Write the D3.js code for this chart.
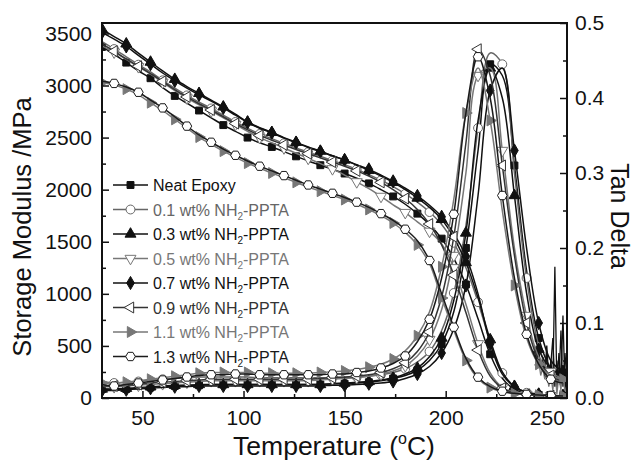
<!DOCTYPE html>
<html>
<head>
<meta charset="utf-8">
<title>DMA curves</title>
<style>
  body { margin: 0; background: #fff; }
  text { font-family: "Liberation Sans", Arial, sans-serif; }
</style>
</head>
<body>
<div id="chart"></div>
<script src="https://d3js.org/d3.v7.min.js"></script>
<script>
// temperature grid (°C), shared by every series
const temps = [30, 36, 42, 48, 54, 60, 66, 72, 78, 84, 90, 96, 102, 108, 114, 120, 126, 132, 138, 144,
  150, 156, 162, 168, 174, 180, 186, 192, 198, 204, 210, 216, 222, 228, 234, 240, 246, 252, 258];

const labels = ["Neat Epoxy", "0.1 wt%", "0.3 wt%", "0.5 wt%", "0.7 wt%", "0.9 wt%", "1.1 wt%", "1.3 wt%"];

// storage modulus (MPa)
const modNeat = [3370, 3300, 3220, 3140, 3070, 2980, 2900, 2830, 2760, 2690, 2620, 2560, 2500, 2450, 2410, 2365, 2320, 2275, 2235, 2195,
  2155, 2110, 2060, 2000, 1935, 1860, 1770, 1665, 1530, 1340, 1090, 760, 420, 190, 85, 45, 30, 24, 20];
const mod01 = [3420, 3350, 3275, 3200, 3130, 3050, 2975, 2905, 2840, 2780, 2715, 2650, 2590, 2535, 2490, 2445, 2400, 2360, 2320, 2280,
  2240, 2195, 2145, 2090, 2030, 1960, 1880, 1785, 1665, 1490, 1250, 920, 540, 240, 105, 50, 32, 24, 20];
const mod03 = [3540, 3470, 3400, 3310, 3225, 3140, 3060, 2990, 2925, 2860, 2795, 2725, 2650, 2595, 2550, 2500, 2455, 2410, 2370, 2325,
  2285, 2235, 2185, 2130, 2070, 2000, 1920, 1830, 1715, 1540, 1300, 960, 560, 250, 110, 55, 35, 25, 20];
const mod05 = [3380, 3320, 3250, 3180, 3110, 3030, 2950, 2880, 2815, 2755, 2690, 2625, 2560, 2500, 2450, 2400, 2350, 2300, 2250, 2200,
  2140, 2075, 2010, 1935, 1855, 1780, 1690, 1600, 1480, 1250, 900, 520, 240, 100, 52, 35, 28, 22, 20];
const mod07 = [3510, 3445, 3375, 3290, 3205, 3120, 3045, 2975, 2910, 2850, 2785, 2715, 2645, 2590, 2545, 2495, 2450, 2405, 2365, 2325,
  2285, 2240, 2195, 2140, 2080, 2015, 1940, 1850, 1740, 1580, 1360, 1000, 520, 230, 110, 55, 35, 26, 21];
const mod09 = [3400, 3330, 3255, 3185, 3115, 3040, 2960, 2890, 2825, 2765, 2700, 2635, 2575, 2520, 2475, 2430, 2385, 2345, 2305, 2265,
  2225, 2180, 2130, 2070, 2000, 1915, 1810, 1670, 1470, 1180, 820, 460, 210, 95, 50, 35, 28, 22, 20];
const mod11 = [3030, 3005, 2965, 2910, 2835, 2760, 2675, 2590, 2505, 2435, 2370, 2310, 2255, 2205, 2160, 2115, 2070, 2025, 1985, 1945,
  1905, 1860, 1810, 1750, 1680, 1590, 1470, 1290, 960, 650, 360, 185, 100, 60, 42, 33, 27, 23, 20];
const mod13 = [3040, 3020, 2985, 2935, 2860, 2785, 2700, 2610, 2525, 2455, 2390, 2330, 2275, 2225, 2180, 2135, 2090, 2045, 2005, 1965,
  1925, 1880, 1830, 1770, 1705, 1620, 1510, 1320, 1000, 680, 380, 200, 110, 65, 45, 35, 28, 24, 20];

// tan delta
const tanNeat = [0.012, 0.011, 0.012, 0.013, 0.014, 0.015, 0.016, 0.017, 0.017, 0.018, 0.018, 0.018, 0.018, 0.018, 0.018, 0.018, 0.018, 0.018, 0.018, 0.019,
  0.019, 0.020, 0.021, 0.023, 0.026, 0.030, 0.037, 0.050, 0.072, 0.115, 0.200, 0.330, 0.445, 0.430, 0.310, 0.170, 0.080, 0.040, 0.030];
const tan01 = [0.022, 0.020, 0.021, 0.022, 0.024, 0.025, 0.026, 0.027, 0.028, 0.028, 0.028, 0.028, 0.028, 0.027, 0.027, 0.027, 0.027, 0.027, 0.027, 0.027,
  0.027, 0.028, 0.029, 0.031, 0.034, 0.039, 0.048, 0.062, 0.090, 0.140, 0.230, 0.360, 0.460, 0.445, 0.300, 0.160, 0.070, 0.030, 0.020];
const tan03 = [0.012, 0.012, 0.013, 0.014, 0.015, 0.016, 0.017, 0.017, 0.018, 0.018, 0.018, 0.018, 0.018, 0.018, 0.018, 0.018, 0.018, 0.018, 0.018, 0.019,
  0.020, 0.021, 0.022, 0.024, 0.027, 0.032, 0.040, 0.055, 0.080, 0.130, 0.220, 0.370, 0.440, 0.400, 0.270, 0.140, 0.065, 0.040, 0.035];
const tan05 = [0.015, 0.015, 0.016, 0.017, 0.018, 0.019, 0.020, 0.021, 0.022, 0.023, 0.023, 0.023, 0.023, 0.023, 0.023, 0.023, 0.023, 0.023, 0.024, 0.025,
  0.026, 0.027, 0.029, 0.032, 0.036, 0.043, 0.056, 0.078, 0.118, 0.190, 0.300, 0.430, 0.440, 0.330, 0.200, 0.110, 0.055, 0.035, 0.025];
const tan07 = [0.010, 0.010, 0.011, 0.012, 0.013, 0.014, 0.015, 0.015, 0.016, 0.016, 0.016, 0.016, 0.016, 0.016, 0.016, 0.016, 0.016, 0.016, 0.016, 0.017,
  0.017, 0.018, 0.019, 0.020, 0.022, 0.026, 0.032, 0.042, 0.060, 0.092, 0.150, 0.270, 0.410, 0.440, 0.330, 0.200, 0.100, 0.050, 0.035];
const tan09 = [0.016, 0.016, 0.017, 0.018, 0.020, 0.021, 0.022, 0.023, 0.024, 0.025, 0.025, 0.025, 0.025, 0.025, 0.025, 0.025, 0.025, 0.025, 0.026, 0.027,
  0.028, 0.029, 0.031, 0.034, 0.039, 0.047, 0.062, 0.088, 0.135, 0.215, 0.340, 0.465, 0.430, 0.310, 0.190, 0.100, 0.050, 0.030, 0.022];
const tan11 = [0.020, 0.020, 0.021, 0.023, 0.025, 0.027, 0.029, 0.031, 0.033, 0.034, 0.034, 0.034, 0.034, 0.033, 0.033, 0.033, 0.033, 0.033, 0.034, 0.035,
  0.036, 0.038, 0.041, 0.045, 0.052, 0.063, 0.083, 0.115, 0.175, 0.265, 0.380, 0.440, 0.370, 0.250, 0.150, 0.080, 0.045, 0.030, 0.025];
const tan13 = [0.018, 0.016, 0.018, 0.020, 0.022, 0.024, 0.026, 0.028, 0.030, 0.031, 0.031, 0.032, 0.032, 0.031, 0.031, 0.031, 0.031, 0.031, 0.031, 0.032,
  0.032, 0.034, 0.036, 0.040, 0.046, 0.056, 0.075, 0.105, 0.160, 0.245, 0.380, 0.455, 0.400, 0.270, 0.160, 0.085, 0.045, 0.025, 0.020];

// noisy tan delta tail at the end of the runs (1 °C steps)
const tailTemps = [244, 245, 246, 247, 248, 249, 250, 251, 252, 253, 254, 255, 256, 257, 258, 259, 260];
const tail07 = [0.060, 0.050, 0.065, 0.040, 0.055, 0.030, 0.070, 0.025, 0.050, 0.020, 0.175, 0.010, 0.060, 0.020, 0.110, 0.010, 0.040];
const tail03 = [0.070, 0.055, 0.060, 0.045, 0.050, 0.035, 0.060, 0.020, 0.045, 0.080, 0.015, 0.050, 0.020, 0.090, 0.015, 0.060, 0.020];
const tail11 = [0.045, 0.040, 0.050, 0.030, 0.040, 0.025, 0.035, 0.015, 0.030, 0.010, 0.040, 0.005, 0.030, 0.010, 0.050, 0.000, 0.020];

const modulus = [modNeat, mod01, mod03, mod05, mod07, mod09, mod11, mod13];
const tanDelta = [tanNeat, tan01, tan03, tan05, tan07, tan09, tan11, tan13];
const tails = [[4, tail07], [2, tail03], [6, tail11]];

// look of each series
const colors = ["#111", "#666", "#111", "#777", "#111", "#333", "#777", "#1a1a1a"];
const shapes = ["square", "circle", "up", "down", "diamond", "left", "right", "hex"];
const filled = [true, false, true, false, true, false, true, false];

const W = 635, H = 461;
const margin = { top: 23, right: 68, bottom: 63, left: 102 };
const width = W - margin.left - margin.right,
  height = H - margin.top - margin.bottom;

const svg = d3.select("#chart").append("svg")
  .attr("width", W).attr("height", H);
const g = svg.append("g")
  .attr("transform", `translate(${margin.left},${margin.top})`);

const x = d3.scaleLinear().domain([30, 260]).range([0, width]);
const yL = d3.scaleLinear().domain([0, 3600]).range([height, 0]);
const yR = d3.scaleLinear().domain([0, 0.5]).range([height, 0]);

g.append("clipPath").attr("id", "clip")
  .append("rect").attr("width", width).attr("height", height);

// symbols
function symbolPath(shape) {
  if (shape === "square") return d3.symbol(d3.symbolSquare, 48)();
  if (shape === "circle") return d3.symbol(d3.symbolCircle, 62)();
  if (shape === "diamond") return d3.symbol(d3.symbolDiamond, 50)();
  if (shape === "hex") {
    const r = 4.8;
    return "M" + d3.range(6).map(i => {
      const a = Math.PI / 3 * i;
      return [r * Math.cos(a), r * Math.sin(a)].join(",");
    }).join("L") + "Z";
  }
  return d3.symbol(d3.symbolTriangle, 52)();
}
const rot = { up: 0, down: 180, left: -90, right: 90 };

function drawMarker(sel, s, px, py) {
  const sh = shapes[s];
  sel.append("path")
    .attr("d", symbolPath(sh))
    .attr("transform", `translate(${px},${py})` + (rot[sh] ? ` rotate(${rot[sh]})` : ""))
    .attr("fill", filled[s] ? colors[s] : "#fff")
    .attr("stroke", colors[s])
    .attr("stroke-width", 1);
}

const plot = g.append("g").attr("clip-path", "url(#clip)");
const curve = d3.curveCatmullRom.alpha(0.5);

// jagged tails first, underneath
tails.forEach(([s, vals]) => {
  plot.append("path")
    .attr("d", d3.line().x((d, i) => x(tailTemps[i])).y(d => yR(d))(vals))
    .attr("fill", "none").attr("stroke", colors[s]).attr("stroke-width", 1.3);
});

modulus.forEach((mod, s) => {
  const tan = tanDelta[s];
  const grp = plot.append("g");
  const lineM = d3.line().curve(curve).x((d, i) => x(temps[i])).y(d => yL(d));
  const lineT = d3.line().curve(curve).x((d, i) => x(temps[i])).y(d => yR(d));
  grp.append("path").attr("d", lineM(mod))
    .attr("fill", "none").attr("stroke", colors[s]).attr("stroke-width", 1.5);
  grp.append("path").attr("d", lineT(tan))
    .attr("fill", "none").attr("stroke", colors[s]).attr("stroke-width", 1.5);
  temps.forEach((t, i) => {
    if (i % 2 !== s % 2) return;
    drawMarker(grp, s, x(t), yL(mod[i]));
    drawMarker(grp, s, x(t), yR(tan[i]));
  });
});

// axes, ticks inward
function styleAxis(a) {
  a.select(".domain").remove();
  a.selectAll(".tick line").attr("stroke", "#111").attr("stroke-width", 1.5);
  a.selectAll("text").attr("font-size", 21).attr("fill", "#111")
    .style("font-family", '"Liberation Sans", Arial, sans-serif');
}

g.append("g").attr("transform", `translate(0,${height})`)
  .call(d3.axisBottom(x).tickValues([50, 100, 150, 200, 250]).tickSizeInner(-7).tickSizeOuter(0).tickPadding(12))
  .call(styleAxis);
g.append("g").attr("transform", `translate(0,${height})`)
  .call(d3.axisBottom(x).tickValues([75, 125, 175, 225]).tickSizeInner(-4).tickSizeOuter(0).tickFormat(""))
  .call(styleAxis);

g.append("g")
  .call(d3.axisLeft(yL).tickValues(d3.range(0, 3501, 500)).tickSizeInner(-7).tickSizeOuter(0).tickPadding(10).tickFormat(d3.format("d")))
  .call(styleAxis);
g.append("g")
  .call(d3.axisLeft(yL).tickValues(d3.range(250, 3500, 500)).tickSizeInner(-4).tickSizeOuter(0).tickFormat(""))
  .call(styleAxis);

g.append("g").attr("transform", `translate(${width},0)`)
  .call(d3.axisRight(yR).tickValues([0, 0.1, 0.2, 0.3, 0.4, 0.5]).tickSizeInner(-7).tickSizeOuter(0).tickPadding(8).tickFormat(d3.format(".1f")))
  .call(styleAxis);
g.append("g").attr("transform", `translate(${width},0)`)
  .call(d3.axisRight(yR).tickValues([0.05, 0.15, 0.25, 0.35, 0.45]).tickSizeInner(-4).tickSizeOuter(0).tickFormat(""))
  .call(styleAxis);

// frame
g.append("rect").attr("width", width).attr("height", height)
  .attr("fill", "none").attr("stroke", "#111").attr("stroke-width", 2);

// axis titles
svg.append("text")
  .attr("transform", "translate(31,227) rotate(-90)")
  .attr("text-anchor", "middle").attr("font-size", 25.5).attr("fill", "#111")
  .text("Storage Modulus /MPa");

svg.append("text")
  .attr("transform", "translate(611,216) rotate(90)")
  .attr("text-anchor", "middle").attr("font-size", 25).attr("fill", "#111")
  .text("Tan Delta");

const xt = svg.append("text")
  .attr("x", 334).attr("y", 455)
  .attr("text-anchor", "middle").attr("font-size", 26.5).attr("fill", "#111");
xt.append("tspan").text("Temperature (");
xt.append("tspan").attr("font-size", 16).attr("dy", -11).text("o");
xt.append("tspan").attr("dy", 11).text("C)");

// legend
const legend = svg.append("g").attr("transform", "translate(113,185)");
labels.forEach((lab, s) => {
  const row = legend.append("g").attr("transform", `translate(0,${s * 24.5})`);
  row.append("line").attr("x1", 0).attr("x2", 35)
    .attr("stroke", colors[s]).attr("stroke-width", 1.5);
  drawMarker(row, s, 17.5, 0);
  const t = row.append("text").attr("x", 40).attr("y", 6)
    .attr("font-size", 16).attr("fill", colors[s]);
  if (s === 0) {
    t.text(lab);
  } else {
    t.append("tspan").text(lab + " NH");
    t.append("tspan").attr("font-size", 10).attr("dy", 4).text("2");
    t.append("tspan").attr("dy", -4).text("-PPTA");
  }
});
</script>
</body>
</html>
